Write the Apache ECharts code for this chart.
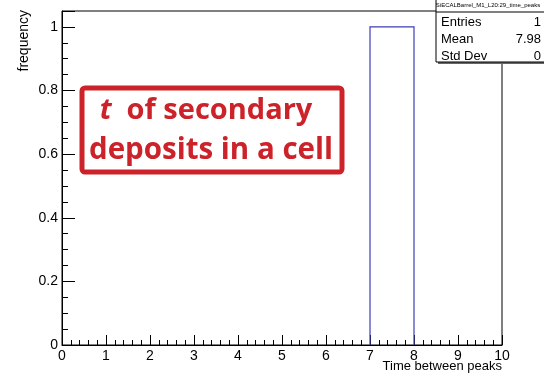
<!DOCTYPE html>
<html>
<head>
<meta charset="utf-8">
<script src="https://cdn.jsdelivr.net/npm/echarts@6/dist/echarts.min.js"></script>
<style>
  html, body { margin: 0; padding: 0; background: #fff; }
  #chart { width: 544px; height: 375px; }
</style>
</head>
<body>
<div id="chart"></div>
<script>
// Histogram of time between peaks: bin edges and counts
const binLow = [0, 1, 2, 3, 4, 5, 6, 7, 8, 9];
const binHigh = [1, 2, 3, 4, 5, 6, 7, 8, 9, 10];
const binCounts = [0, 0, 0, 0, 0, 0, 0, 1, 0, 0];

// Statistics box contents
const histName = 'SiECALBarrel_M1_L20:29_time_peaks';
const statNames = ['Entries', 'Mean', 'Std Dev'];
const statValues = ['1', '7.98', '0'];

const xTitle = 'Time between peaks';
const yTitle = 'frequency';

const chart = echarts.init(document.getElementById('chart'), null, { renderer: 'canvas' });

const binData = binLow.map((lo, i) => [lo, binHigh[i], binCounts[i]]);

const axisFont = { fontFamily: 'Liberation Sans', fontSize: 14, color: '#000' };

// stats box graphics
const statX = 436, statW = 110, statTop = -1, statH = 63;
const statGraphics = [
  { type: 'rect', shape: { x: statX + 2, y: statTop + 2, width: statW, height: statH },
    style: { fill: '#666' }, z: 100 },
  { type: 'rect', shape: { x: statX, y: statTop, width: statW, height: statH },
    style: { fill: '#fff', stroke: '#000', lineWidth: 1 }, z: 101 },
  { type: 'line', shape: { x1: statX, y1: 12, x2: statX + statW, y2: 12 },
    style: { stroke: '#000', lineWidth: 1 }, z: 102 },
  { type: 'text', x: 488, y: 5, z: 103,
    style: { text: histName, font: '6px "Liberation Sans"', fill: '#000',
             textAlign: 'center', textVerticalAlign: 'middle' } }
];
statNames.forEach((name, i) => {
  const y = 22 + i * 17;
  statGraphics.push({ type: 'text', x: 441, y: y, z: 103,
    style: { text: name, font: '13px "Liberation Sans"', fill: '#000',
             textAlign: 'left', textVerticalAlign: 'middle' } });
  statGraphics.push({ type: 'text', x: 541, y: y, z: 103,
    style: { text: statValues[i], font: '13px "Liberation Sans"', fill: '#000',
             textAlign: 'right', textVerticalAlign: 'middle' } });
});

// axis titles, placed ROOT-style at the far end of each axis
const titleGraphics = [
  { type: 'text', x: 502, y: 360, z: 20,
    style: { text: xTitle, font: '13px "Liberation Sans"', fill: '#000',
             textAlign: 'right', textVerticalAlign: 'top' } },
  { type: 'text', x: 24, y: 10, rotation: Math.PI / 2, z: 20,
    style: { text: yTitle, font: '14px "Liberation Sans"', fill: '#000',
             textAlign: 'right', textVerticalAlign: 'middle' } }
];

const option = {
  animation: false,
  backgroundColor: '#fff',
  grid: {
    left: 62, right: 42, top: 11, bottom: 30,
    containLabel: false, outerBoundsMode: 'none',
    show: true, borderColor: '#000', borderWidth: 1, backgroundColor: '#fff'
  },
  xAxis: {
    type: 'value', min: 0, max: 10, interval: 1,
    axisLine: { show: true, onZero: false, lineStyle: { color: '#000', width: 1 } },
    axisTick: { show: true, inside: true, length: 10, lineStyle: { color: '#000' } },
    minorTick: { show: true, splitNumber: 5, length: 5, lineStyle: { color: '#000' } },
    splitLine: { show: false },
    axisLabel: Object.assign({ margin: 4 }, axisFont)
  },
  yAxis: {
    type: 'value', min: 0, max: 1.05, interval: 0.2,
    axisLine: { show: true, onZero: false, lineStyle: { color: '#000', width: 1 } },
    axisTick: { show: true, inside: true, length: 13, lineStyle: { color: '#000' } },
    minorTick: { show: true, splitNumber: 4, length: 6, lineStyle: { color: '#000' } },
    splitLine: { show: false },
    axisLabel: Object.assign({ margin: 4, showMaxLabel: false }, axisFont)
  },
  series: [{
    type: 'custom',
    data: binData,
    encode: { x: [0, 1], y: 2 },
    clip: true,
    renderItem: function (params, api) {
      const lo = api.value(0), hi = api.value(1), c = api.value(2);
      if (c <= 0) return null;
      const p0 = api.coord([lo, 0]);
      const p1 = api.coord([lo, c]);
      const p2 = api.coord([hi, c]);
      const p3 = api.coord([hi, 0]);
      return {
        type: 'polyline',
        shape: { points: [p0, p1, p2, p3] },
        style: { stroke: '#3c3cb8', lineWidth: 1.2, fill: null }
      };
    }
  }],
  graphic: [
    {
      type: 'rect', z: 50,
      shape: { x: 82, y: 88, width: 260, height: 84, r: 3 },
      style: { fill: '#fff', stroke: '#cc2229', lineWidth: 5 }
    },
    {
      type: 'text', z: 51, x: 206, y: 111,
      style: {
        text: '{i|t}{b|  of secondary}',
        textAlign: 'center', textVerticalAlign: 'middle',
        rich: {
          i: { font: 'italic bold 29px "Open Sans"', fill: '#cc2229' },
          b: { font: 'bold 29px "Open Sans"', fill: '#cc2229' }
        }
      }
    },
    {
      type: 'text', z: 51, x: 211, y: 151,
      style: {
        text: 'deposits in a cell',
        font: 'bold 29.5px "Open Sans"', fill: '#cc2229',
        textAlign: 'center', textVerticalAlign: 'middle'
      }
    }
  ].concat(statGraphics, titleGraphics)
};

chart.setOption(option);
</script>
</body>
</html>
